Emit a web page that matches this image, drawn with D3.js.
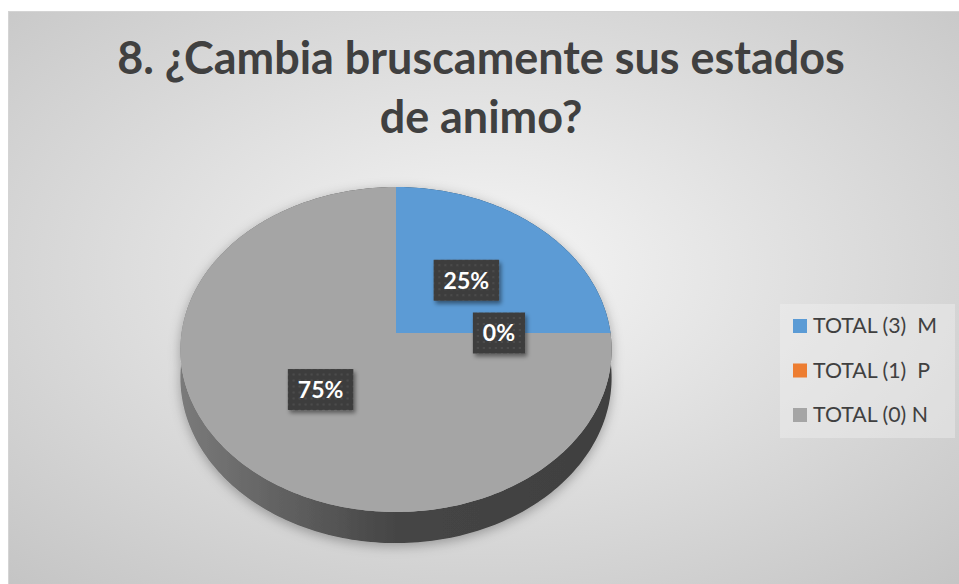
<!DOCTYPE html>
<html>
<head>
<meta charset="utf-8">
<script src="https://cdn.jsdelivr.net/npm/d3@7/dist/d3.min.js"></script>
<style>
  body { margin: 0; background: #fff; }
  text { font-family: Lato, "Open Sans", sans-serif; white-space: pre; }
</style>
</head>
<body>
<div class="container"></div>
<script>
// data
const titleLines = ["8. ¿Cambia bruscamente sus estados", "de animo?"];
const categories = ["TOTAL (3)  M", "TOTAL (1)  P", "TOTAL (0) N"];
const values = [25, 0, 75];
const colors = ["#5B9BD5", "#ED7D31", "#A5A5A5"];

let width = 959, height = 584;

let svg = d3.select(".container").append("svg")
    .attr("width", width)
    .attr("height", height);

let defs = svg.append("defs");

let bg = defs.append("radialGradient").attr("id", "bg")
    .attr("cx", "50%").attr("cy", "45%").attr("r", "75%");
bg.append("stop").attr("offset", "0%").attr("stop-color", "#f6f6f6");
bg.append("stop").attr("offset", "100%").attr("stop-color", "#c4c4c4");

let dots = defs.append("pattern").attr("id", "dots")
    .attr("patternUnits", "userSpaceOnUse").attr("width", 6).attr("height", 6);
dots.append("rect").attr("width", 6).attr("height", 6).attr("fill", "#3e3e3e");
dots.append("circle").attr("cx", 3).attr("cy", 3).attr("r", 1).attr("fill", "#505050");

function shadowFilter(id, dx, dy, blur, op) {
  let f = defs.append("filter").attr("id", id)
      .attr("x", "-20%").attr("y", "-20%").attr("width", "140%").attr("height", "140%");
  f.append("feGaussianBlur").attr("in", "SourceAlpha").attr("stdDeviation", blur);
  f.append("feOffset").attr("dx", dx).attr("dy", dy).attr("result", "ob");
  f.append("feFlood").attr("flood-color", "#000").attr("flood-opacity", op);
  f.append("feComposite").attr("in2", "ob").attr("operator", "in");
  let m = f.append("feMerge");
  m.append("feMergeNode");
  m.append("feMergeNode").attr("in", "SourceGraphic");
}
shadowFilter("pieShadow", 0, 3, 6, 0.3);
shadowFilter("boxShadow", 2, 3, 2, 0.45);

// chart area
svg.append("rect")
    .attr("x", 8.5).attr("y", 11.5)
    .attr("width", width - 8).attr("height", height - 11)
    .attr("fill", "url(#bg)")
    .attr("stroke", "#d4d4d4");

// title
let title = svg.append("g").attr("fill", "#404040")
    .attr("font-weight", "bold").attr("text-anchor", "middle");
let t1 = title.append("text").attr("x", 481).attr("y", 74)
    .attr("font-size", 40).text(titleLines[0]);
let fs = 40 * 728 / t1.node().getComputedTextLength();
t1.attr("font-size", fs);
title.append("text").attr("x", 481).attr("y", 133)
    .attr("font-size", fs).text(titleLines[1]);

// 3D pie with perspective
let cx = 396, cy = 333, depth = 28, persp = 0.1015;
let x = d3.scaleLinear().domain([-1, 1]).range([cx - 214.5, cx + 214.5]);
let y = d3.scaleLinear().domain([-1, 1]).range([cy + 160.8, cy - 160.8]);

function proj(ang, r, h) {
  let xw = Math.sin(ang) * r, zw = Math.cos(ang) * r;
  let s = 1 / (1 + persp * zw);
  return [cx + (x(xw) - cx) * s, cy + (y(zw) - cy) * s + h * s];
}

function arcPts(a0, a1, r, h) {
  let n = Math.max(2, Math.ceil((a1 - a0) / 0.02));
  return d3.range(n + 1).map(i => proj(a0 + (a1 - a0) * i / n, r, h));
}

let color = d3.scaleOrdinal().domain(categories).range(colors);
let arcs = d3.pie().sort(null).value(d => d)(values);
let line = d3.line();

let pie = svg.append("g").attr("filter", "url(#pieShadow)");

// outer walls
arcs.forEach((a, i) => {
  if (a.endAngle - a.startAngle <= 0) return;
  let c = d3.color(colors[i]);
  let g = defs.append("linearGradient").attr("id", "side" + i)
      .attr("gradientUnits", "userSpaceOnUse")
      .attr("x1", x(-1)).attr("x2", x(1)).attr("y1", 0).attr("y2", 0);
  g.append("stop").attr("offset", "0%").attr("stop-color", c.darker(0.85));
  g.append("stop").attr("offset", "50%").attr("stop-color", c.darker(2.45));
  g.append("stop").attr("offset", "100%").attr("stop-color", c.darker(2.65));
  let top = arcPts(a.startAngle, a.endAngle, 1, 0);
  let bot = arcPts(a.startAngle, a.endAngle, 1, depth).reverse();
  pie.append("path")
      .attr("d", line(top.concat(bot)) + "Z")
      .attr("fill", "url(#side" + i + ")");
});

// top faces
arcs.forEach((a, i) => {
  if (a.endAngle - a.startAngle <= 0) return;
  let pts = [proj(0, 0, 0)].concat(arcPts(a.startAngle, a.endAngle, 1, 0));
  pie.append("path")
      .attr("d", line(pts) + "Z")
      .attr("fill", color(categories[i]));
});

// data labels
let lab = svg.append("g");
arcs.forEach((a, i) => {
  let p = proj((a.startAngle + a.endAngle) / 2, 0.48, 0);
  let g = lab.append("g").attr("transform", `translate(${p[0]},${p[1]})`);
  let box = g.append("rect").attr("fill", "url(#dots)").attr("filter", "url(#boxShadow)");
  let t = g.append("text").attr("text-anchor", "middle").attr("dy", "0.36em")
      .attr("fill", "#fff").attr("font-weight", "bold").attr("font-size", 23)
      .text(values[i] + "%");
  let w = t.node().getComputedTextLength() + 20;
  box.attr("x", -w / 2).attr("y", -20.5).attr("width", w).attr("height", 41);
});

// legend
let legend = svg.append("g");
legend.append("rect")
    .attr("x", 780).attr("y", 304).attr("width", 175).attr("height", 134)
    .attr("fill", "#f2f2f2").attr("fill-opacity", 0.4);
let ly = d3.scalePoint().domain(categories).range([326, 415]);
let lfs = 17;
categories.forEach((c, i) => {
  legend.append("rect")
      .attr("x", 793).attr("y", ly(c) - 7).attr("width", 14).attr("height", 14)
      .attr("fill", color(c));
  let t = legend.append("text")
      .attr("x", 813).attr("y", ly(c)).attr("dy", "0.35em")
      .attr("font-size", lfs).attr("fill", "#404040")
      .text(c);
  if (i === 0) lfs = 17 * 124 / t.node().getComputedTextLength();
  t.attr("font-size", lfs);
});
</script>
</body>
</html>
